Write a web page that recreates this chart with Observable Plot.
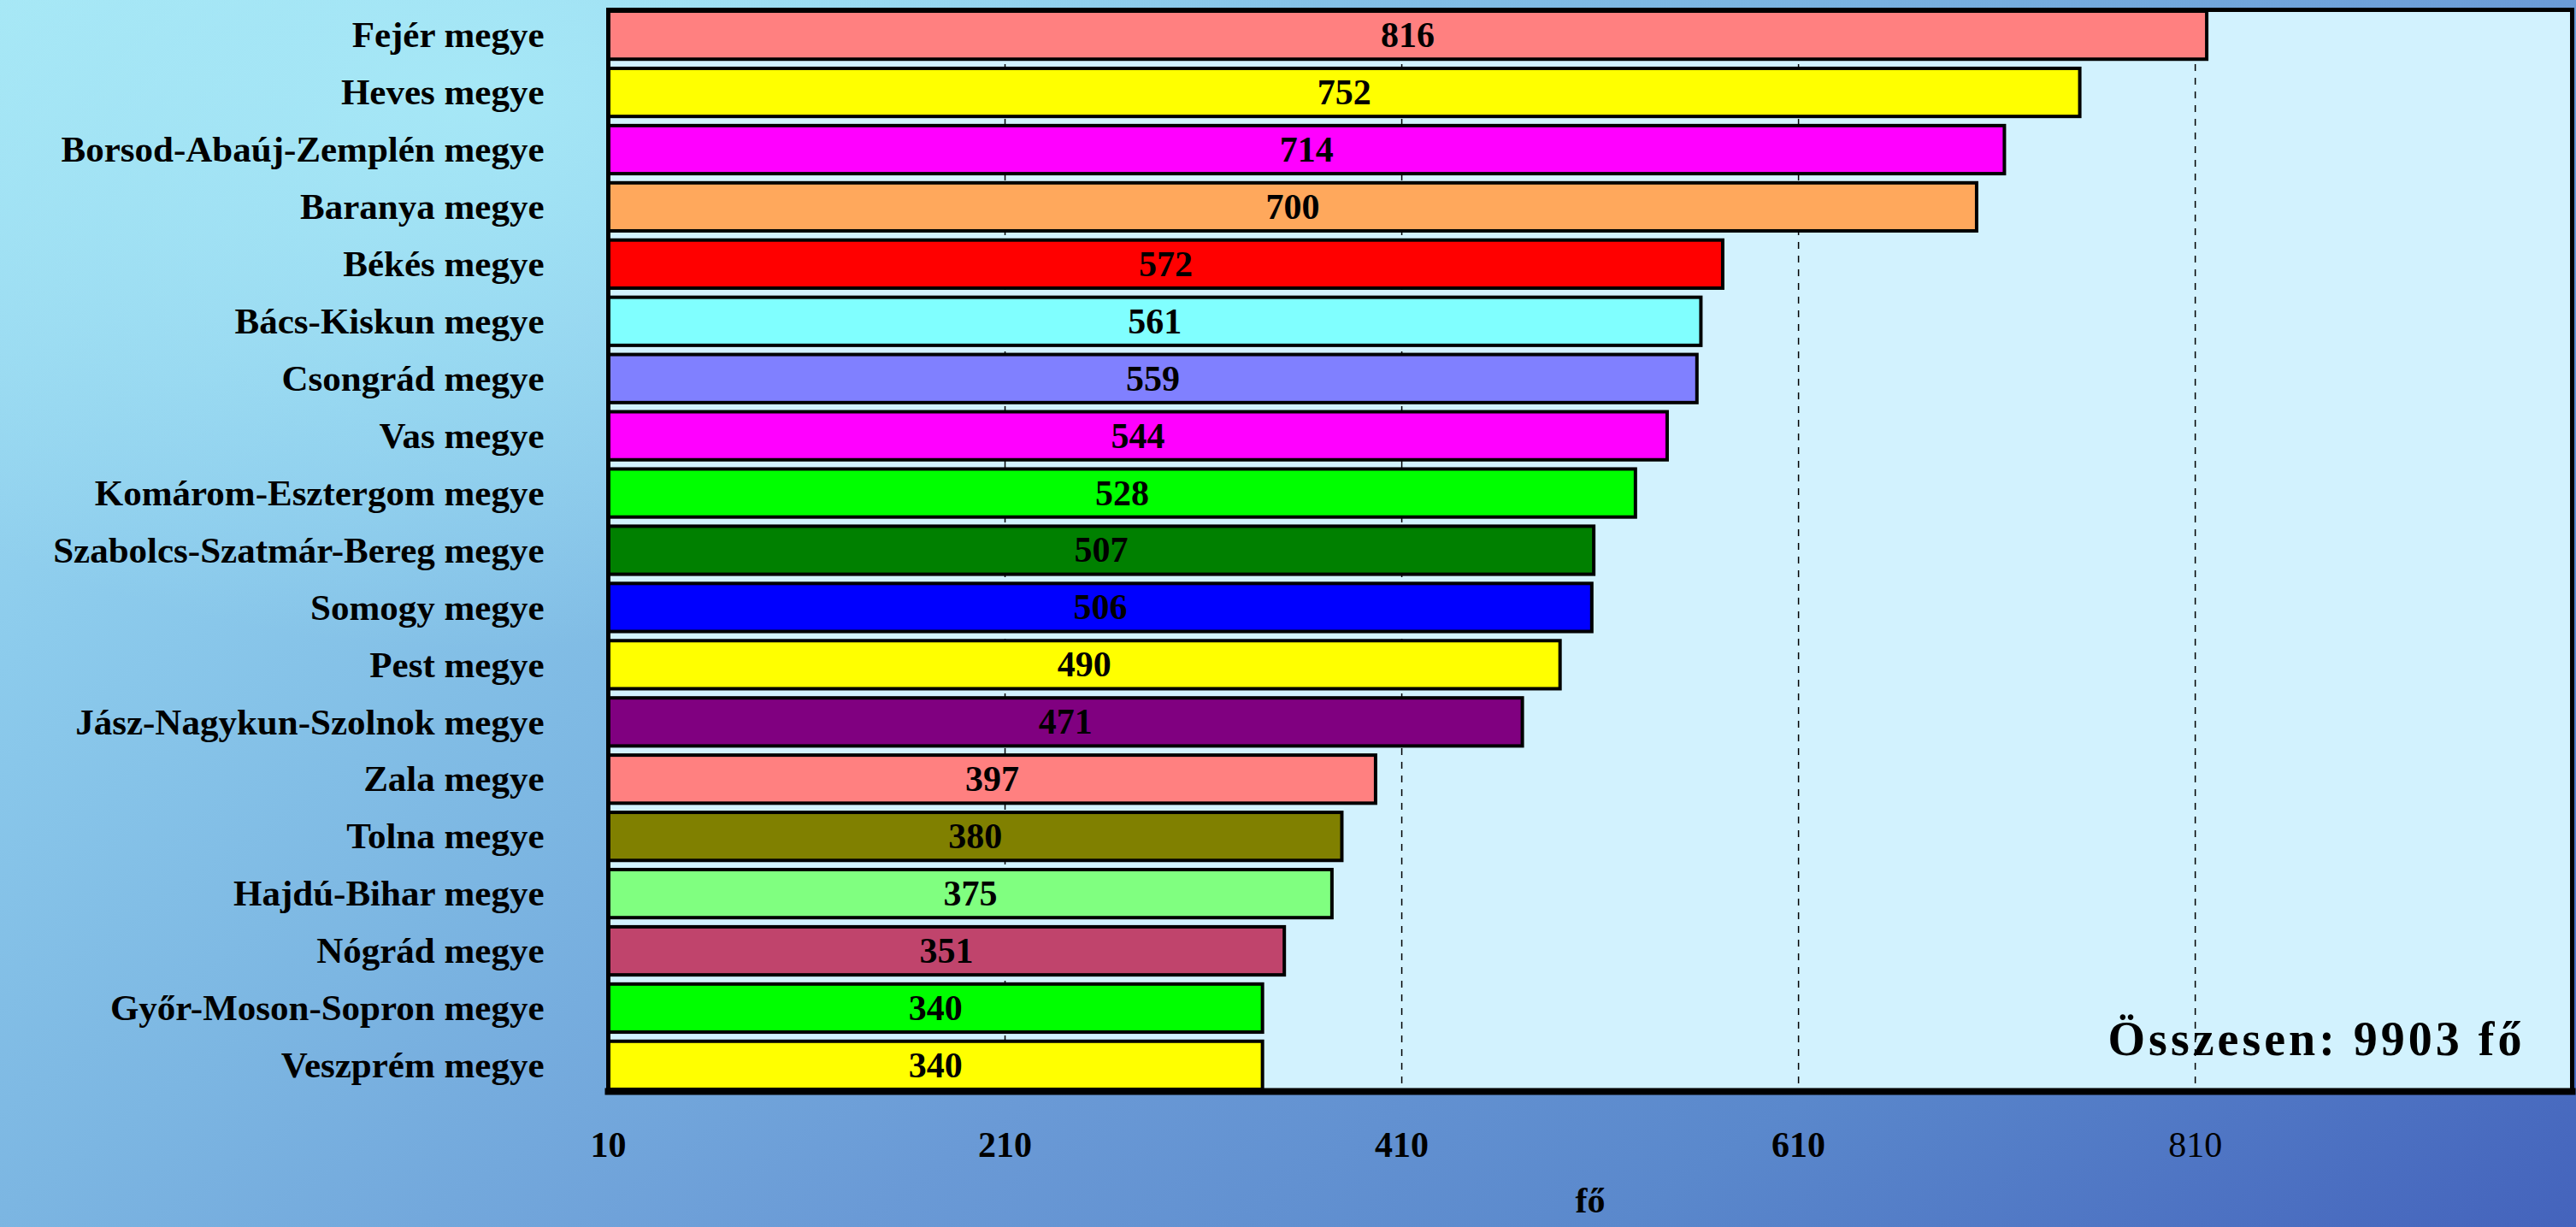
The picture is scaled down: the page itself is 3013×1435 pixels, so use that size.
<!DOCTYPE html>
<html>
<head>
<meta charset="utf-8">
<script src="https://cdn.jsdelivr.net/npm/d3@7"></script>
<script src="https://cdn.jsdelivr.net/npm/@observablehq/plot@0.6"></script>
<style>
  html, body { margin: 0; padding: 0; }
  #chart {
    width: 3013px; height: 1435px; position: relative; overflow: hidden;
    background:
      radial-gradient(ellipse 1000px 650px at 560px 110px, rgba(170,236,248,0.8), rgba(170,236,248,0) 100%),
      linear-gradient(145deg, #a6e6f5 0%, #8ccbec 22%, #7cb6e2 40%, #6a9ad6 60%, #5a88cc 78%, #4463bc 100%);
  }
  #chart svg { position: absolute; left: 0; top: 0; }
  g[aria-label="x-axis tick label"] text:last-child { font-weight: normal; }
</style>
</head>
<body>
<div id="chart"></div>
<script>
const counties = [
  "Fejér megye", "Heves megye", "Borsod-Abaúj-Zemplén megye", "Baranya megye",
  "Békés megye", "Bács-Kiskun megye", "Csongrád megye", "Vas megye",
  "Komárom-Esztergom megye", "Szabolcs-Szatmár-Bereg megye", "Somogy megye",
  "Pest megye", "Jász-Nagykun-Szolnok megye", "Zala megye", "Tolna megye",
  "Hajdú-Bihar megye", "Nógrád megye", "Győr-Moson-Sopron megye", "Veszprém megye"
];
const values = [816, 752, 714, 700, 572, 561, 559, 544, 528, 507, 506, 490, 471, 397, 380, 375, 351, 340, 340];
const barColors = [
  "#ff8080", "#ffff00", "#ff00ff", "#ffa85c", "#ff0000", "#80ffff", "#8080ff", "#ff00ff",
  "#00ff00", "#008000", "#0000ff", "#ffff00", "#800080", "#ff8080", "#808000", "#80ff80",
  "#c0446c", "#00ff00", "#ffff00"
];
const xTicks = [10, 210, 410, 610, 810];
const gridTicks = [210, 410, 610, 810];
const xDomain = [10, 1000];
const axisTitle = "fő";
const totalLabel = "Összesen";

const data = counties.map((name, i) => ({name, value: values[i]}));
const total = d3.sum(values);
const xMin = xDomain[0];

const plot = Plot.plot({
  width: 3013,
  height: 1435,
  marginLeft: 711,
  marginTop: 11,
  marginRight: 5,
  marginBottom: 159,
  style: {background: "transparent", fontFamily: "'Liberation Serif', 'Times New Roman', serif", fontWeight: "bold", fontSize: "42px", color: "black"},
  x: {domain: xDomain, ticks: xTicks},
  y: {domain: counties, paddingInner: 0.16, paddingOuter: 0.03, round: false},
  color: {domain: counties, range: barColors},
  marks: [
    Plot.frame({fill: "#d2f2fe", stroke: "none"}),
    Plot.ruleX(gridTicks, {stroke: "black", strokeWidth: 1.5, strokeDasharray: "8,8"}),
    Plot.barX(data, {y: "name", x1: () => xMin, x2: "value", fill: "name", stroke: "black", strokeWidth: 4}),
    Plot.text(data, {y: "name", x: d => (xMin + d.value) / 2, text: d => String(d.value), fill: "black", fontSize: 42, fontWeight: "bold"}),
    Plot.frame({stroke: "black", strokeWidth: 5}),
    Plot.frame({anchor: "bottom", stroke: "black", strokeWidth: 8}),
    Plot.axisY({tickSize: 0, tickPadding: 75, fontSize: 43, fontWeight: "bold", label: null}),
    Plot.axisX({ticks: xTicks, tickSize: 0, tickPadding: 47, fontSize: 42, label: null, tickFormat: d => String(d)}),
    Plot.text([axisTitle], {frameAnchor: "bottom", dy: 128, lineAnchor: "middle", text: d => d, fontSize: 42, fontWeight: "bold", fill: "black"}),
    Plot.text([total], {frameAnchor: "bottom-right", dx: -55, dy: -60, textAnchor: "end", lineAnchor: "middle", text: d => `${totalLabel}: ${d} fő`, fontSize: 56, fontWeight: "bold", fill: "black"})
  ]
});
d3.select(plot).selectAll("text")
  .filter(function() { return this.textContent.startsWith(totalLabel); })
  .style("letter-spacing", "4px");
document.getElementById("chart").appendChild(plot);
</script>
</body>
</html>
